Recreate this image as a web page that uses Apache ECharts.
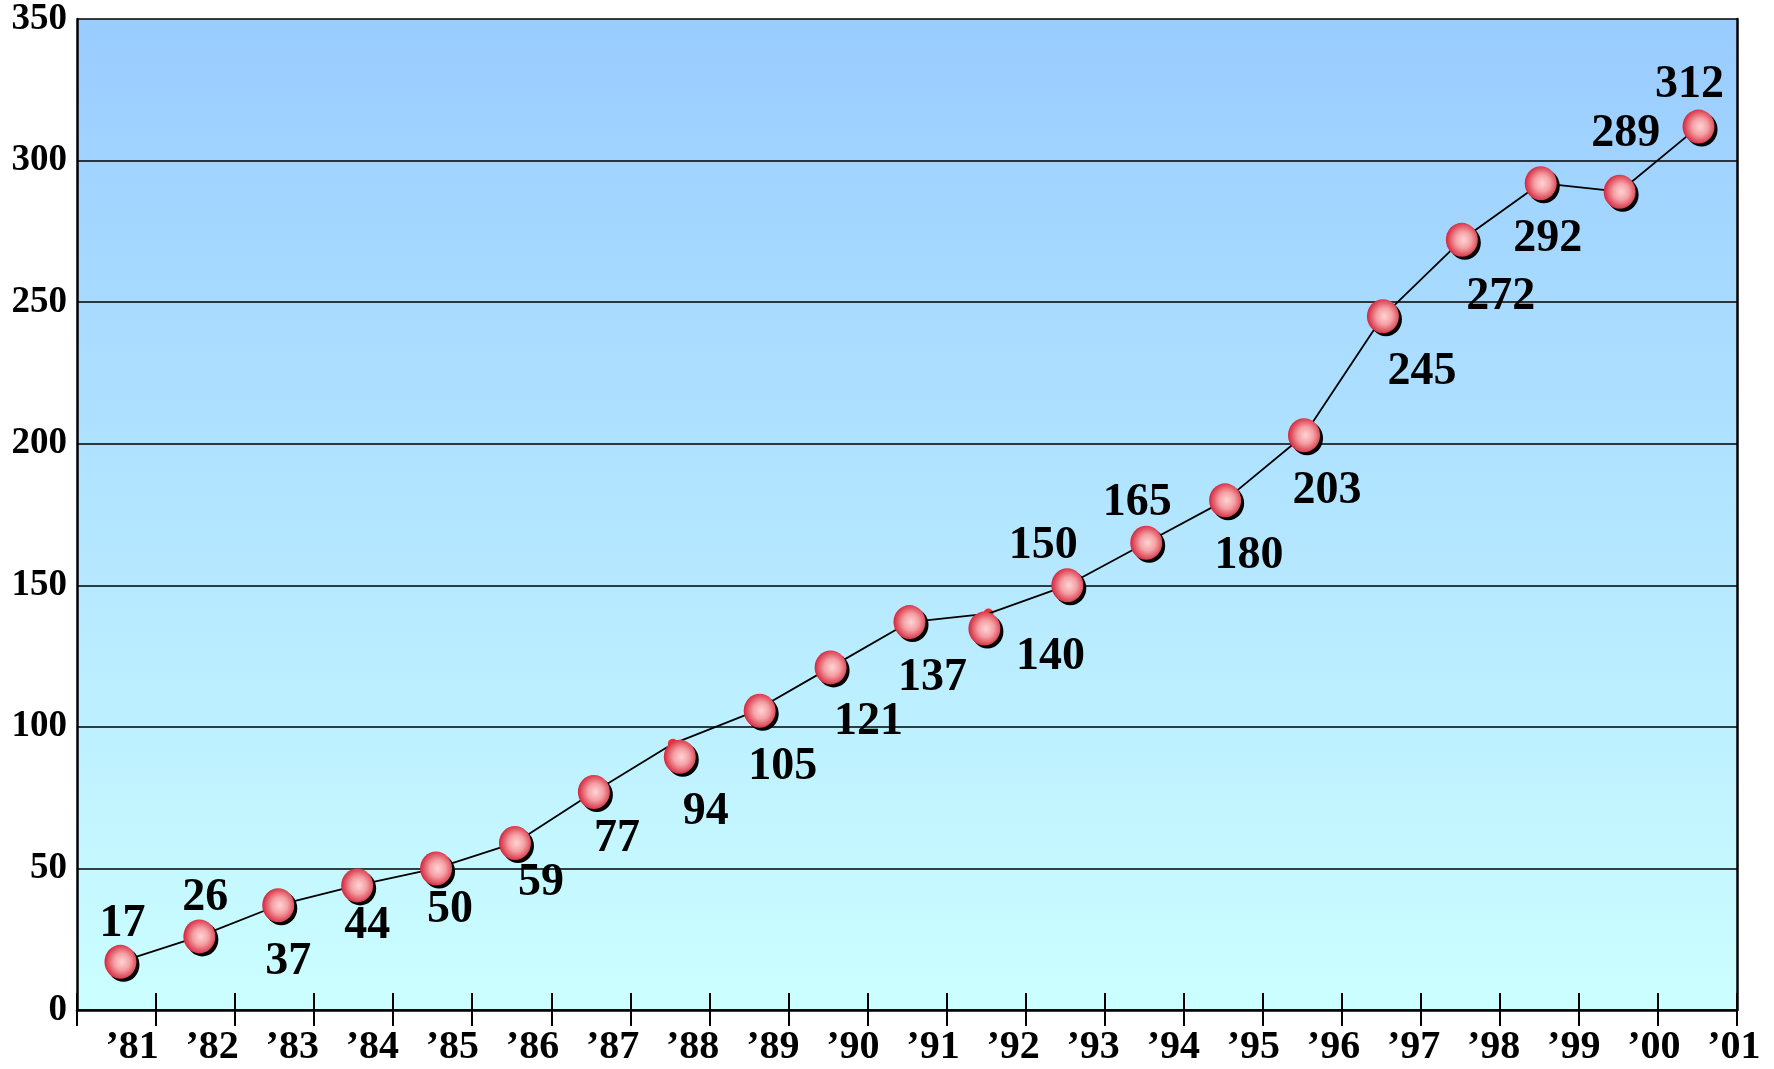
<!DOCTYPE html>
<html>
<head>
<meta charset="utf-8">
<script src="https://cdn.jsdelivr.net/npm/echarts@6/dist/echarts.min.js"></script>
<style>
html,body{margin:0;padding:0;background:#fff;}
#chart{width:1774px;height:1069px;}
</style>
</head>
<body>
<div id="chart"></div>
<script>
// ---- data ----
const categories = ['\u201981','\u201982','\u201983','\u201984','\u201985','\u201986','\u201987','\u201988','\u201989','\u201990','\u201991','\u201992','\u201993','\u201994','\u201995','\u201996','\u201997','\u201998','\u201999','\u201900','\u201901'];
const values = [17, 26, 37, 44, 50, 59, 77, 94, 105, 121, 137, 140, 150, 165, 180, 203, 245, 272, 292, 289, 312];
const yTicks = [0, 50, 100, 150, 200, 250, 300, 350];

// ---- styling (label placement relative to each marker) ----
const labelOffsets = [
  [2,-38],[6,-38],[10,57],[10,41],[14,42],[26,40],[23,47],[26,55],[23,56],[38,55],
  [23,56],[66,29],[-24,-39],[-9,-40],[24,56],[23,56],[39,56],[39,57],[7,56],[6,-58],[-9,-41]
];
// markers drawn displaced from their vertex in the original
const markerShift = {7:[7,13], 8:[8,-2], 11:[-4,15]};
const SYM = [32, 34];
const FONT = 'Liberation Serif';
const TOP = 19, BOTTOM = 59;

const seriesData = values.map((v, i) => {
  const item = {
    value: v,
    label: {
      position: [SYM[0] / 2 + labelOffsets[i][0], SYM[1] / 2 + labelOffsets[i][1]],
      align: 'center', verticalAlign: 'middle'
    }
  };
  if (markerShift[i]) item.symbolOffset = markerShift[i];
  return item;
});
const dotData = values.map((v, i) => markerShift[i] ? v : '-');

const yRange = { min: yTicks[0], max: yTicks[yTicks.length - 1], interval: yTicks[1] - yTicks[0] };
const hiddenY = (gi) => Object.assign({ type: 'value', gridIndex: gi, show: false }, yRange);

const chart = echarts.init(document.getElementById('chart'));
chart.setOption({
  animation: false,
  backgroundColor: '#ffffff',
  grid: [{
    // plot frame, background, ticks, gridlines
    left: 77, right: 37, top: TOP, bottom: BOTTOM,
    show: true, borderWidth: 0,
    backgroundColor: {
      type: 'linear', x: 0, y: 0, x2: 0, y2: 1,
      colorStops: [{offset: 0, color: '#99ccff'}, {offset: 1, color: '#ccffff'}]
    }
  }, {
    // year labels (spread slightly wider in the original)
    left: 92, width: 1688, top: TOP, bottom: BOTTOM, show: false
  }, {
    // data markers
    left: 81, right: 36, top: TOP, bottom: BOTTOM, show: false
  }],
  xAxis: [{
    type: 'category', gridIndex: 0, data: categories, boundaryGap: true,
    axisLine: { show: true, lineStyle: { color: '#000', width: 2.5 } },
    axisTick: { show: true, inside: false, length: 16, lineStyle: { color: '#000', width: 2 } },
    axisLabel: { show: false },
    splitLine: { show: false }
  }, {
    type: 'category', gridIndex: 0, data: categories, position: 'bottom', boundaryGap: true,
    axisLine: { show: false },
    axisTick: { show: true, inside: true, length: 17, lineStyle: { color: '#000', width: 2 } },
    axisLabel: { show: false },
    splitLine: { show: false }
  }, {
    type: 'category', gridIndex: 1, data: categories, boundaryGap: true,
    axisLine: { show: false },
    axisTick: { show: false },
    axisLabel: { show: true, interval: 0, margin: 18, color: '#000', fontFamily: FONT, fontWeight: 'bold', fontSize: 40 },
    splitLine: { show: false }
  }, {
    type: 'category', gridIndex: 2, data: categories, boundaryGap: true, show: false
  }],
  yAxis: [Object.assign({
    type: 'value', gridIndex: 0,
    axisLine: { show: true, lineStyle: { color: '#000', width: 2.5 } },
    axisTick: { show: false },
    axisLabel: { margin: 10, color: '#000', fontFamily: FONT, fontWeight: 'bold', fontSize: 37 },
    splitLine: { show: true, lineStyle: { color: '#000', width: 1.6 } }
  }, yRange), Object.assign({
    type: 'value', gridIndex: 0, position: 'right',
    axisLine: { show: true, lineStyle: { color: '#000', width: 2.5 } },
    axisTick: { show: false },
    axisLabel: { show: false },
    splitLine: { show: false }
  }, yRange), hiddenY(1), hiddenY(2)],
  series: [{
    type: 'scatter',
    xAxisIndex: 3, yAxisIndex: 3,
    data: dotData,
    symbol: 'circle',
    symbolSize: 10,
    itemStyle: { color: '#ff0000' },
    z: 1,
    silent: true
  }, {
    type: 'line',
    xAxisIndex: 3, yAxisIndex: 3,
    data: seriesData,
    z: 3,
    symbol: 'circle',
    symbolSize: SYM,
    showAllSymbol: true,
    lineStyle: { color: '#000', width: 1.8 },
    itemStyle: {
      color: {
        type: 'radial', x: 0.55, y: 0.5, r: 0.55,
        colorStops: [
          {offset: 0, color: '#ffd4d4'},
          {offset: 0.45, color: '#f4a0a4'},
          {offset: 1, color: '#d3243a'}
        ]
      },
      borderWidth: 0,
      shadowColor: 'rgba(0,0,0,1)',
      shadowBlur: 0.5,
      shadowOffsetX: 3,
      shadowOffsetY: 3
    },
    label: {
      show: true,
      color: '#000',
      fontFamily: FONT,
      fontWeight: 'bold',
      fontSize: 46,
      formatter: p => String(p.value)
    },
    labelLayout: { hideOverlap: false }
  }]
});
</script>
</body>
</html>
